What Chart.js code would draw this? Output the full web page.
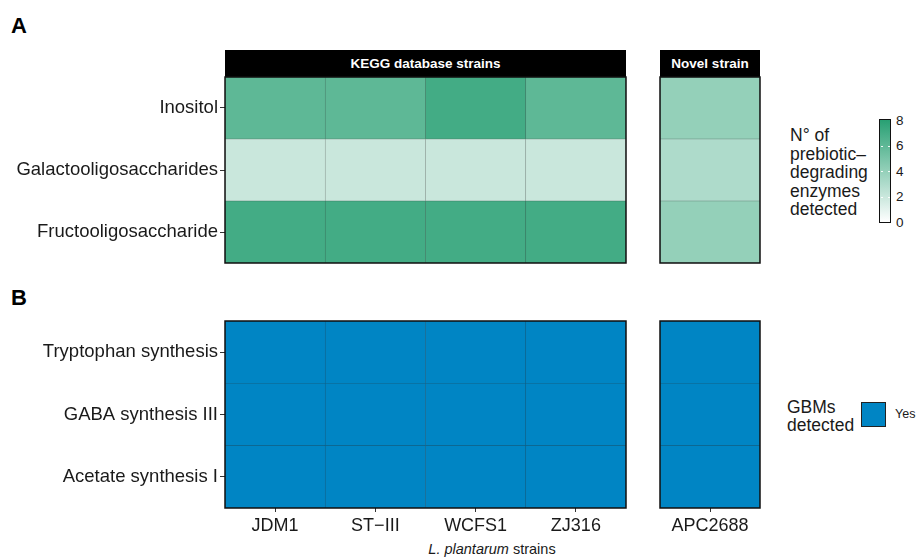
<!DOCTYPE html>
<html>
<head>
<meta charset="utf-8">
<script src="https://cdn.jsdelivr.net/npm/chart.js@4.4.1/dist/chart.umd.min.js"></script>
<style>
  html, body { margin: 0; padding: 0; background: #fff; }
  #fig { position: relative; width: 917px; height: 560px; overflow: hidden;
         font-family: "Liberation Sans", Arial, Helvetica, sans-serif; color: #000; }
  .abs { position: absolute; white-space: nowrap; }
  canvas { position: absolute; }
  .tag { font-weight: bold; font-size: 22px; line-height: 22px; }
  .strip { background: #000; color: #fff; font-weight: bold; font-size: 13.5px;
           display: flex; align-items: center; justify-content: center; }
  .legtitle { font-size: 17.5px; line-height: 18.5px; color: #1a1a1a; }
  .cbtick { font-size: 13.5px; line-height: 13.5px; color: #1a1a1a; }
</style>
</head>
<body>
<div id="fig">
  <div class="abs tag" style="left:11px;top:15px">A</div>
  <div class="abs tag" style="left:11px;top:287px">B</div>

  <div class="abs strip" style="left:225px;top:50px;width:401px;height:27px">KEGG database strains</div>
  <div class="abs strip" style="left:660px;top:50px;width:100px;height:27px">Novel strain</div>

  <canvas id="aKegg"  width="630" height="192" style="left:0;top:75px;width:630px;height:192px"></canvas>
  <canvas id="aNovel" width="110" height="192" style="left:656px;top:75px;width:110px;height:192px"></canvas>
  <canvas id="bKegg"  width="630" height="220" style="left:0;top:319px;width:630px;height:220px"></canvas>
  <canvas id="bNovel" width="110" height="220" style="left:656px;top:319px;width:110px;height:220px"></canvas>

  <div class="abs" style="left:292px;width:400px;top:541px;text-align:center;font-size:14.5px;color:#1a1a1a">
    <i>L. plantarum</i> strains
  </div>

  <div class="abs legtitle" style="left:790px;top:126px">N° of<br>prebiotic–<br>degrading<br>enzymes<br>detected</div>
  <div id="colorbar" class="abs" style="left:879px;top:119px;width:10px;height:102px;border:1.5px solid #111"></div>
  <div id="cbticks"></div>

  <div class="abs legtitle" style="left:787px;top:399px;line-height:17.5px">GBMs<br>detected</div>
  <div id="gbmKey" class="abs" style="left:861px;top:402px;width:23px;height:23px;border:1.5px solid #222"></div>
  <div class="abs" style="left:895px;top:408px;font-size:12.5px;line-height:13px;color:#1a1a1a">Yes</div>
</div>

<script>
// ---- data -------------------------------------------------------------
const keggStrains  = ['JDM1', 'ST\u2212III', 'WCFS1', 'ZJ316'];
const novelStrains = ['APC2688'];

// prebiotic pathways, listed bottom row first
const prebioticPathways = ['Fructooligosaccharide', 'Galactooligosaccharides', 'Inositol'];
// number of prebiotic-degrading enzymes detected (one array per pathway)
const fructoKegg    = [7, 7, 7, 7];
const galactoKegg   = [2, 2, 2, 2];
const inositolKegg  = [6, 6, 7, 6];
const fructoNovel   = [4];
const galactoNovel  = [3];
const inositolNovel = [4];

// gut-brain modules, listed bottom row first
const gbmPathways = ['Acetate synthesis I', 'GABA synthesis III', 'Tryptophan synthesis'];
const acetateKegg     = ['Yes', 'Yes', 'Yes', 'Yes'];
const gabaKegg        = ['Yes', 'Yes', 'Yes', 'Yes'];
const tryptophanKegg  = ['Yes', 'Yes', 'Yes', 'Yes'];
const acetateNovel    = ['Yes'];
const gabaNovel       = ['Yes'];
const tryptophanNovel = ['Yes'];

const colorbarTicks = [0, 2, 4, 6, 8];

// ---- colour scales ---------------------------------------------------
const SCALE_MAX = 8;
const LOW = [255, 255, 255];
const HIGH = [40, 160, 115];
function enzymeRGB(v) {
  const f = Math.max(0, Math.min(1, v / SCALE_MAX));
  return LOW.map((l, i) => Math.round(l + (HIGH[i] - l) * f));
}
const rgbStr = c => `rgb(${c[0]},${c[1]},${c[2]})`;
const enzymeColor = v => rgbStr(enzymeRGB(v));
const gbmRGB = { Yes: [0, 133, 196] };

// tile outline: the fill mixed towards dark grey
const outline = c => rgbStr(c.map(x => Math.round(x * 0.6 + 40 * 0.4)));

// ---- helpers ---------------------------------------------------------
const FONT = '"Liberation Sans", Arial, Helvetica, sans-serif';

const frame = {
  id: 'frame',
  afterDatasetsDraw(chart) {
    const a = chart.chartArea, ctx = chart.ctx;
    ctx.save();
    ctx.strokeStyle = '#111';
    ctx.lineWidth = 1.5;
    ctx.strokeRect(a.left, a.top, a.right - a.left, a.bottom - a.top);
    ctx.restore();
  }
};

function tileChart(id, strains, rowLabels, rowValues, rgbOf, showY, showX, padding) {
  const datasets = rowValues.map((vals, r) => ({
    label: rowLabels[r],
    data: vals.map(() => 1),
    backgroundColor: vals.map(v => rgbStr(rgbOf(v))),
    borderColor: vals.map(v => outline(rgbOf(v))),
    borderWidth: 0.6,
    borderSkipped: false,
    barPercentage: 1,
    categoryPercentage: 1
  }));
  return new Chart(document.getElementById(id), {
    type: 'bar',
    data: { labels: strains, datasets },
    plugins: [frame],
    options: {
      responsive: false,
      animation: false,
      layout: { padding },
      plugins: { legend: { display: false }, tooltip: { enabled: false } },
      scales: {
        x: {
          type: 'category',
          stacked: true,
          display: showX,
          offset: true,
          grid: { offset: false, drawOnChartArea: false, drawTicks: true, tickLength: 4, color: '#333' },
          border: { display: false },
          ticks: { font: { family: FONT, size: 18 }, color: '#1a1a1a', padding: 3, maxRotation: 0 },
          afterFit: s => { s.height = showX ? 31 : 0; s.paddingLeft = 0; s.paddingRight = 0; }
        },
        y: {
          type: 'linear',
          stacked: true,
          min: 0,
          max: rowLabels.length,
          display: showY,
          grid: { drawOnChartArea: false, drawTicks: true, tickLength: 5, color: '#333' },
          border: { display: false },
          afterBuildTicks: s => { s.ticks = rowLabels.map((_, i) => ({ value: i + 0.5 })); },
          ticks: {
            font: { family: FONT, size: 18.5 },
            color: '#1a1a1a',
            padding: 2,
            callback: (v, i) => rowLabels[i]
          },
          afterFit: s => { s.width = showY ? 225 : 0; s.paddingTop = 0; s.paddingBottom = 0; }
        }
      }
    }
  });
}

// ---- panel A: prebiotic-degrading enzymes ----------------------------
tileChart('aKegg', keggStrains, prebioticPathways,
  [fructoKegg, galactoKegg, inositolKegg], enzymeRGB, true, false,
  { top: 2, right: 4, bottom: 4, left: 0 });
tileChart('aNovel', novelStrains, prebioticPathways,
  [fructoNovel, galactoNovel, inositolNovel], enzymeRGB, false, false,
  { top: 2, right: 6, bottom: 4, left: 4 });

// ---- panel B: gut-brain modules --------------------------------------
const gbmColorOf = v => gbmRGB[v];
tileChart('bKegg', keggStrains, gbmPathways,
  [acetateKegg, gabaKegg, tryptophanKegg], gbmColorOf, true, true,
  { top: 2, right: 4, bottom: 0, left: 0 });
tileChart('bNovel', novelStrains, gbmPathways,
  [acetateNovel, gabaNovel, tryptophanNovel], gbmColorOf, false, true,
  { top: 2, right: 6, bottom: 0, left: 4 });

// ---- legends ---------------------------------------------------------
const cb = document.getElementById('colorbar');
const stops = [];
for (let v = 0; v <= SCALE_MAX; v += 1) stops.push(`${enzymeColor(v)} ${(v / SCALE_MAX * 100).toFixed(1)}%`);
cb.style.background = `linear-gradient(to top, ${stops.join(', ')})`;

const cbTop = 120.5, cbBottom = 222.5;
const tickHost = document.getElementById('cbticks');
colorbarTicks.forEach(v => {
  const y = cbBottom - (v / SCALE_MAX) * (cbBottom - cbTop);
  const lab = document.createElement('div');
  lab.className = 'abs cbtick';
  lab.style.left = '896px';
  lab.style.top = (y - 7) + 'px';
  lab.textContent = v;
  tickHost.appendChild(lab);
  if (v > 0 && v < SCALE_MAX) {
    [880.5, 887.5].forEach(x => {
      const t = document.createElement('div');
      t.className = 'abs';
      t.style.cssText = `left:${x}px;top:${y - 0.5}px;width:2.5px;height:1px;background:rgba(255,255,255,0.9)`;
      tickHost.appendChild(t);
    });
  }
});

document.getElementById('gbmKey').style.background = rgbStr(gbmRGB.Yes);
</script>
</body>
</html>
